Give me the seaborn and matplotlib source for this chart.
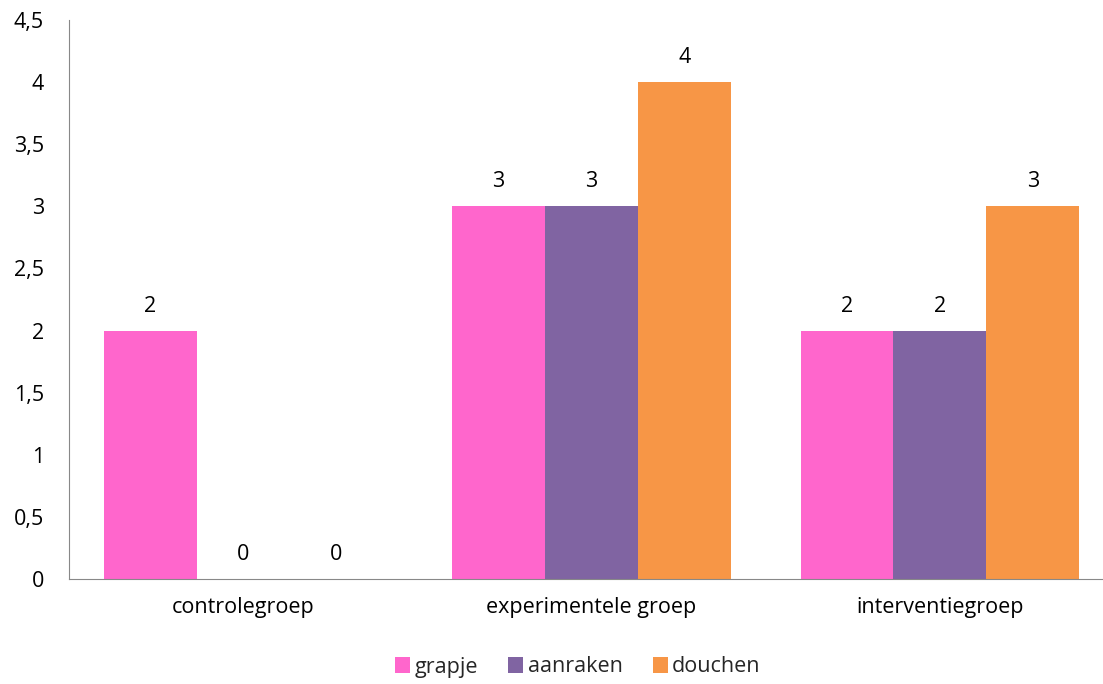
import pandas as pd
import matplotlib.pyplot as plt
import seaborn as sns

groepen = ["controlegroep", "experimentele groep", "interventiegroep"]
series = ["grapje", "aanraken", "douchen"]
grapje = [2, 3, 2]
aanraken = [0, 3, 2]
douchen = [0, 4, 3]
kleuren = ["#FF66CC", "#8064A2", "#F79646"]

df = pd.DataFrame({
    "groep": groepen * 3,
    "reactie": [s for s in series for _ in groepen],
    "waarde": grapje + aanraken + douchen,
})

sns.set_style("white")
plt.rcParams["font.family"] = ["Open Sans", "DejaVu Sans"]

fig = plt.figure(figsize=(11.03, 6.84), dpi=100)
ax = fig.add_axes([69 / 1103, 1 - 579 / 684, 1045 / 1103, 559 / 684])

sns.barplot(data=df, x="groep", y="waarde", hue="reactie", order=groepen,
            hue_order=series, palette=kleuren, width=0.8, saturation=1,
            linewidth=0, ax=ax, legend=True)

fs = 15.5
for c in ax.containers:
    ax.bar_label(c, labels=[f"{v:g}" for v in c.datavalues], padding=10,
                 fontsize=fs, color="black")

ax.set_ylim(0, 4.5)
ax.set_xlim(-0.5, 2.5)
ax.set_yticks([0, 0.5, 1, 1.5, 2, 2.5, 3, 3.5, 4, 4.5])
ax.set_yticklabels(["0", "0,5", "1", "1,5", "2", "2,5", "3", "3,5", "4", "4,5"])
ax.tick_params(axis="both", labelsize=fs, length=0, colors="black")
ax.tick_params(axis="x", pad=13)
ax.tick_params(axis="y", pad=18)
ax.set_xlabel("")
ax.set_ylabel("")
for s in ["top", "right"]:
    ax.spines[s].set_visible(False)
ax.spines["left"].set_color("#888888")
ax.spines["bottom"].set_color("#888888")

handles, labels = ax.get_legend_handles_labels()
ax.legend(handles, labels, loc="center", bbox_to_anchor=(578 / 1103, 1 - 667 / 684),
          bbox_transform=fig.transFigure, ncol=3, frameon=False, fontsize=fs,
          handlelength=0.7, handleheight=0.7, handletextpad=0.2, columnspacing=1.4)

fig.savefig("out.png", dpi=100)
